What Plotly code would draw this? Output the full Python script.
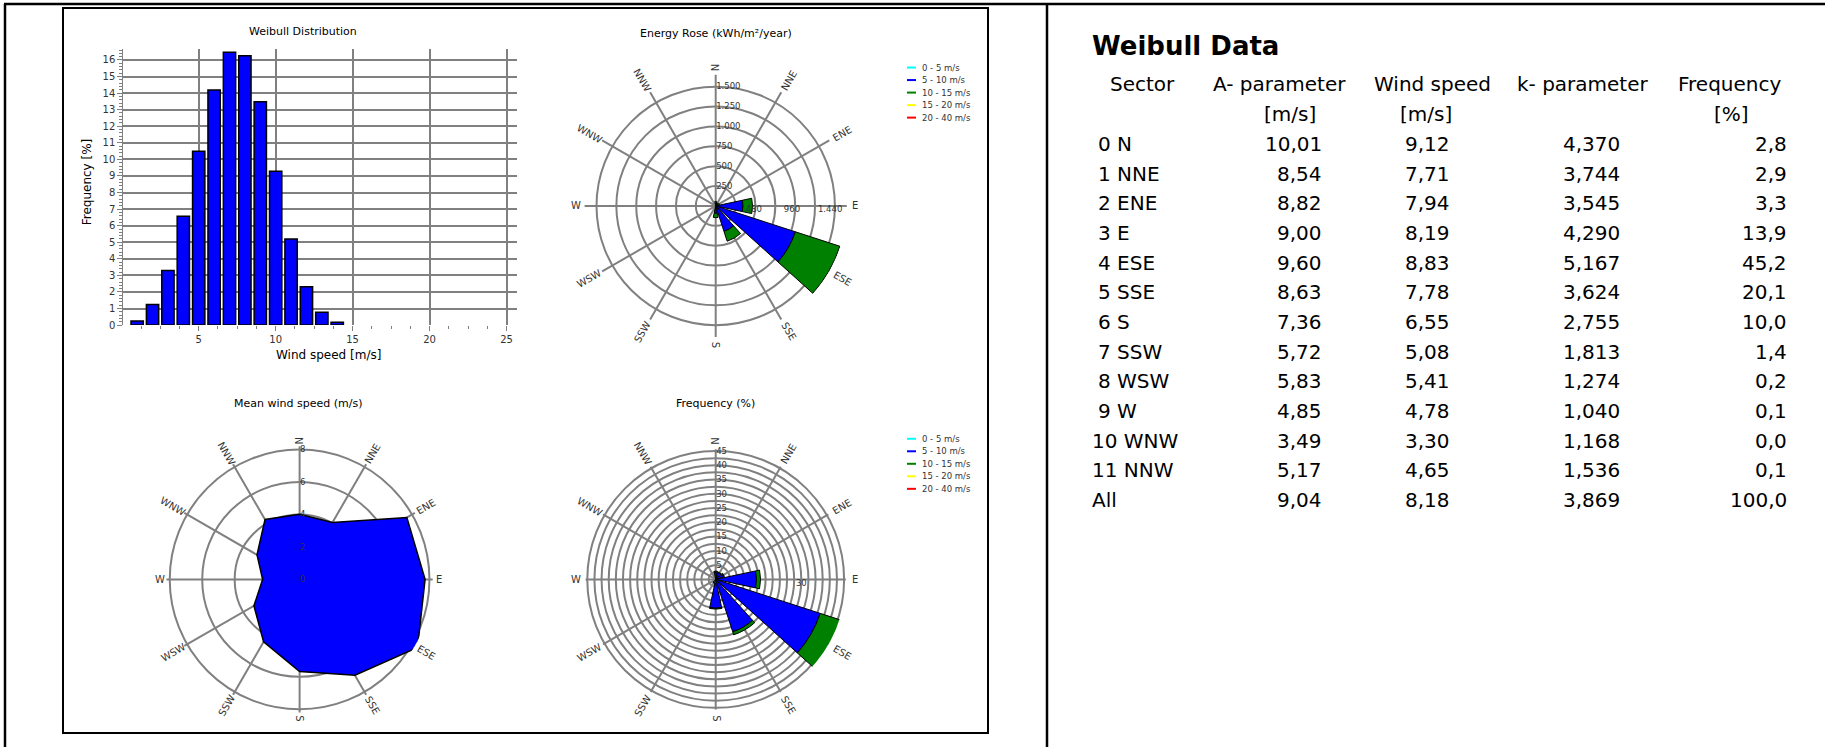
import math
import plotly.graph_objects as go

W, H = 1825, 752

# ---------------- data ----------------
hist_speed = [1, 2, 3, 4, 5, 6, 7, 8, 9, 10, 11, 12, 13, 14]
hist_freq = [0.25, 1.25, 3.3, 6.57, 10.49, 14.19, 16.46, 16.26, 13.47, 9.29, 5.2, 2.32, 0.78, 0.18]

directions = ["N", "NNE", "ENE", "E", "ESE", "SSE", "S", "SSW", "WSW", "W", "WNW", "NNW"]
dir_angles = [0, 30, 60, 90, 120, 150, 180, 210, 240, 270, 300, 330]

speed_bins = ["0 - 5 m/s", "5 - 10 m/s", "10 - 15 m/s", "15 - 20 m/s", "20 - 40 m/s"]
bin_colors = ["#00FFFF", "#0000FF", "#008000", "#FFFF00", "#FF0000"]

energy_0_5 = [1, 1, 1, 3, 4, 2, 2, 1, 0, 0, 0, 0]
energy_5_10 = [30, 25, 30, 340, 1050, 335, 90, 4, 1, 0.5, 0, 0.5]
energy_10_15 = [25, 15, 20, 120, 590, 130, 55, 0, 0, 0, 0, 0]
energy_15_20 = [0, 0, 0, 0, 0, 0, 0, 0, 0, 0, 0, 0]
energy_20_40 = [0, 0, 0, 0, 0, 0, 0, 0, 0, 0, 0, 0]

freq_0_5 = [0.2, 0.2, 0.2, 0.3, 0.5, 0.5, 1.5, 1.2, 0.2, 0.1, 0.0, 0.1]
freq_5_10 = [2.4, 2.3, 2.7, 14.0, 38.0, 18.8, 8.6, 0.2, 0.0, 0.0, 0.0, 0.0]
freq_10_15 = [0.3, 0.2, 0.3, 1.4, 8.2, 1.1, 0.3, 0.0, 0.0, 0.0, 0.0, 0.0]
freq_15_20 = [0, 0, 0, 0, 0, 0, 0, 0, 0, 0, 0, 0]
freq_20_40 = [0, 0, 0, 0, 0, 0, 0, 0, 0, 0, 0, 0]

mean_speed = [4.02, 4.05, 7.63, 7.73, 8.39, 6.82, 5.67, 4.44, 3.25, 2.28, 3.03, 4.26]

energy_ring_vals = [250, 500, 750, 1000, 1250, 1500]
energy_ring_text = ["250", "500", "750", "1.000", "1.250", "1.500"]
energy_e_vals = [480, 960, 1440]
energy_e_text = ["480", "960", "1.440"]
freq_ring_vals = [2.5 * i for i in range(1, 19)]
freq_ring_text = [("%g" % v) if v % 5 == 0 else "" for v in freq_ring_vals]
mean_ring_vals = [0, 2, 4, 6, 8]

table_sectors = ["0 N", "1 NNE", "2 ENE", "3 E", "4 ESE", "5 SSE", "6 S", "7 SSW",
                 "8 WSW", "9 W", "10 WNW", "11 NNW", "All"]
table_A = [10.01, 8.54, 8.82, 9.00, 9.60, 8.63, 7.36, 5.72, 5.83, 4.85, 3.49, 5.17, 9.04]
table_U = [9.12, 7.71, 7.94, 8.19, 8.83, 7.78, 6.55, 5.08, 5.41, 4.78, 3.30, 4.65, 8.18]
table_k = [4.370, 3.744, 3.545, 4.290, 5.167, 3.624, 2.755, 1.813, 1.274, 1.040, 1.168, 1.536, 3.869]
table_f = [2.8, 2.9, 3.3, 13.9, 45.2, 20.1, 10.0, 1.4, 0.2, 0.1, 0.0, 0.1, 100.0]

# ---------------- helpers ----------------
FONT = "DejaVu Sans"
GRID = "#808080"


def px(x):
    return x / W


def py(y):
    return 1 - y / H


def polar_domain(cx, cy, R):
    return dict(x=[px(cx - R), px(cx + R)], y=[py(cy + R), py(cy - R)])


def comma(v, d):
    return f"{v:.{d}f}".replace(".", ",")


fig = go.Figure()

# Histogram
fig.add_trace(go.Bar(x=hist_speed, y=hist_freq, width=0.8,
                     marker=dict(color="#0000FF", line=dict(color="black", width=1.5)),
                     xaxis="x", yaxis="y", showlegend=False))

# Energy rose
energy_bins = [energy_0_5, energy_5_10, energy_10_15, energy_15_20, energy_20_40]
for name, col, vals in zip(speed_bins, bin_colors, energy_bins):
    fig.add_trace(go.Barpolar(r=vals, theta=dir_angles, width=24, name=name,
                              marker=dict(color=col, line=dict(color="black", width=1)),
                              subplot="polar", showlegend=False))
fig.add_trace(go.Scatterpolar(r=energy_e_vals, theta=[90] * 3, mode="text", text=energy_e_text,
                              textposition="bottom center", textfont=dict(size=8.5, color="#333", family=FONT),
                              subplot="polar", showlegend=False, cliponaxis=False))

# Mean wind speed
fig.add_trace(go.Scatterpolar(r=mean_speed + mean_speed[:1], theta=dir_angles + dir_angles[:1],
                              mode="lines", fill="toself", fillcolor="#0000FF",
                              line=dict(color="black", width=1.5),
                              subplot="polar2", showlegend=False))

# Frequency rose
freq_bins = [freq_0_5, freq_5_10, freq_10_15, freq_15_20, freq_20_40]
for name, col, vals in zip(speed_bins, bin_colors, freq_bins):
    fig.add_trace(go.Barpolar(r=vals, theta=dir_angles, width=24, name=name,
                              marker=dict(color=col, line=dict(color="black", width=1)),
                              subplot="polar3", showlegend=False))
fig.add_trace(go.Scatterpolar(r=[30], theta=[90], mode="text", text=["30"],
                              textposition="bottom center", textfont=dict(size=8.5, color="#333", family=FONT),
                              subplot="polar3", showlegend=False, cliponaxis=False))

# ---------------- polar configs ----------------
centers = {
    "polar": (715.7, 207.3, 132),
    "polar2": (299.6, 583.3, 134),
    "polar3": (715.7, 583.3, 131),
}


def angular():
    return dict(rotation=90, direction="clockwise", tickmode="array", tickvals=dir_angles,
                showticklabels=False, ticks="", showgrid=True, gridcolor=GRID, gridwidth=1.5,
                showline=False, layer="above traces")


def radial(rng, vals, text):
    return dict(range=rng, tickmode="array", tickvals=vals, ticktext=text, angle=90,
                side="clockwise", showline=False, ticks="", showgrid=True, gridcolor=GRID,
                gridwidth=1.5, tickfont=dict(size=8.5, color="#333", family=FONT),
                layer="above traces", tickangle=90)


layout_polars = dict(
    polar=dict(domain=polar_domain(*centers["polar"]), bgcolor="white", barmode="stack",
               angularaxis=angular(), radialaxis=radial([0, 1650], energy_ring_vals, energy_ring_text)),
    polar2=dict(domain=polar_domain(*centers["polar2"]), bgcolor="white",
                angularaxis=angular(), radialaxis=radial([0, 8.2], mean_ring_vals, [str(v) for v in mean_ring_vals])),
    polar3=dict(domain=polar_domain(*centers["polar3"]), bgcolor="white", barmode="stack",
                angularaxis=angular(), radialaxis=radial([0, 45.6], freq_ring_vals, freq_ring_text)),
)

annotations = []
shapes = []

# direction labels
for key, (cx, cy, R) in centers.items():
    for d, a in zip(directions, dir_angles):
        r = 136 + 3.4 * len(d)
        x = cx + r * math.sin(math.radians(a))
        y = cy - r * math.cos(math.radians(a))
        ang = a - 90 if a <= 180 else a - 270
        annotations.append(dict(x=px(x), y=py(y), xref="paper", yref="paper", text=d,
                                showarrow=False, xanchor="center", yanchor="middle", textangle=ang,
                                font=dict(size=10, color="#333", family=FONT)))

# chart titles
for t, x, y in [("Weibull Distribution", 303, 32), ("Energy Rose (kWh/m²/year)", 715.7, 34),
                ("Mean wind speed (m/s)", 298.3, 405.7), ("Frequency (%)", 715.7, 405.7)]:
    annotations.append(dict(x=px(x), y=py(y), xref="paper", yref="paper", text=t, showarrow=False,
                            xanchor="center", yanchor="middle", font=dict(size=11, color="black", family=FONT)))

# histogram axis titles
annotations.append(dict(x=px(328), y=py(357), xref="paper", yref="paper", text="Wind speed [m/s]",
                        showarrow=False, xanchor="center", yanchor="middle",
                        font=dict(size=12, color="black", family=FONT)))
annotations.append(dict(x=px(86.5), y=py(183), xref="paper", yref="paper", text="Frequency [%]",
                        showarrow=False, xanchor="center", yanchor="middle", textangle=-90,
                        font=dict(size=12, color="black", family=FONT)))

# legends
for y0 in (68, 441.7):
    for i, (name, col) in enumerate(zip(speed_bins, bin_colors)):
        yy = y0 + 12.6 * i
        shapes.append(dict(type="line", xref="paper", yref="paper", x0=px(907), x1=px(916),
                           y0=py(yy), y1=py(yy), line=dict(color=col, width=2)))
        annotations.append(dict(x=px(920), y=py(yy), xref="paper", yref="paper", text=name,
                                showarrow=False, xanchor="left", yanchor="middle",
                                font=dict(size=8.5, color="#333", family=FONT)))

# table
annotations.append(dict(x=px(1090), y=py(46.6), xref="paper", yref="paper", text="<b>Weibull Data</b>",
                        showarrow=False, xanchor="left", yanchor="middle",
                        font=dict(size=26, color="black", family=FONT)))
TF = dict(size=20, color="black", family=FONT)
for t, x in [("Sector", 1142), ("A- parameter", 1279), ("Wind speed", 1432),
             ("k- parameter", 1583), ("Frequency", 1729)]:
    annotations.append(dict(x=px(x), y=py(85), xref="paper", yref="paper", text=t, showarrow=False,
                            xanchor="center", yanchor="middle", font=TF))
for t, x in [("[m/s]", 1290), ("[m/s]", 1426), ("[%]", 1731)]:
    annotations.append(dict(x=px(x), y=py(115), xref="paper", yref="paper", text=t, showarrow=False,
                            xanchor="center", yanchor="middle", font=TF))
col_right = [1323.5, 1451.5, 1621.5, 1789]
for i, s in enumerate(table_sectors):
    yy = 145 + 29.85 * i
    xl = 1096 if s[0].isdigit() and not s[:2].isdigit() else 1090
    annotations.append(dict(x=px(xl), y=py(yy), xref="paper", yref="paper", text=s, showarrow=False,
                            xanchor="left", yanchor="middle", font=TF))
    vals = [comma(table_A[i], 2), comma(table_U[i], 2), comma(table_k[i], 3), comma(table_f[i], 1)]
    for v, xr in zip(vals, col_right):
        annotations.append(dict(x=px(xr), y=py(yy), xref="paper", yref="paper", text=v, showarrow=False,
                                xanchor="right", yanchor="middle", font=TF))

# frame lines
blk = dict(color="black", width=2.5)
shapes += [
    dict(type="line", xref="paper", yref="paper", x0=px(4), x1=1, y0=py(4), y1=py(4), line=blk),
    dict(type="line", xref="paper", yref="paper", x0=px(5), x1=px(5), y0=py(4), y1=0, line=blk),
    dict(type="line", xref="paper", yref="paper", x0=px(1047), x1=px(1047), y0=py(4), y1=0, line=blk),
    dict(type="rect", xref="paper", yref="paper", x0=px(63), x1=px(988), y0=py(738), y1=py(8),
         line=dict(color="black", width=2)),
]

fig.update_layout(
    width=W, height=H, margin=dict(l=0, r=0, t=0, b=0, pad=0),
    paper_bgcolor="white", plot_bgcolor="white",
    font=dict(family=FONT, color="black"),
    xaxis=dict(domain=[px(123.3), px(517.3)], range=[0.1, 25.7], tickmode="array",
               tickvals=[5, 10, 15, 20, 25], showgrid=True, gridcolor=GRID, gridwidth=2,
               zeroline=False, showline=False, ticks="outside", ticklen=5, tickcolor=GRID,
               minor=dict(dtick=1.25, ticks="outside", ticklen=3, tickcolor=GRID, showgrid=False),
               tickfont=dict(size=10, color="#333", family=FONT), anchor="y"),
    yaxis=dict(domain=[py(327.3), py(49.5)], range=[0, 16.65], dtick=1, showgrid=True,
               gridcolor=GRID, gridwidth=2, zeroline=False, showline=True, linecolor=GRID,
               linewidth=1, ticks="outside", ticklen=5, tickcolor=GRID,
               minor=dict(dtick=0.2, ticks="outside", ticklen=3, tickcolor=GRID, showgrid=False),
               tickfont=dict(size=10, color="#333", family=FONT), anchor="x"),
    annotations=annotations, shapes=shapes,
    **layout_polars,
)

fig.write_html("out.html", config={"displayModeBar": False},
               post_script="document.body.style.margin='0';document.body.style.padding='0';")
